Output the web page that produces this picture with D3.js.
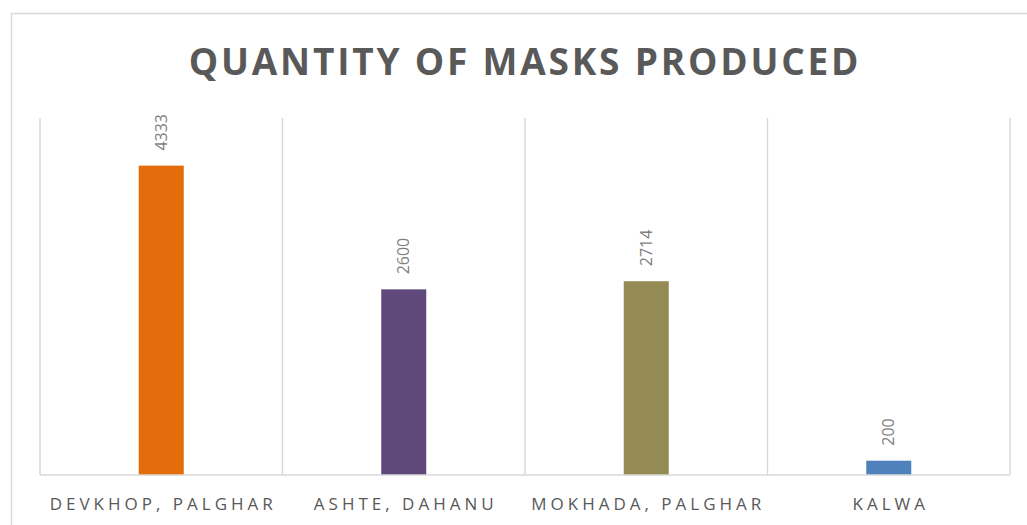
<!DOCTYPE html>
<meta charset="utf-8">
<script src="https://d3js.org/d3.v7.min.js"></script>
<style>
  body { margin: 0; background: #fff; }
  text { font-family: "Open Sans", sans-serif; }
</style>
<body>
<div id="chart"></div>
<script>
  var places = ["DEVKHOP, PALGHAR", "ASHTE, DAHANU", "MOKHADA, PALGHAR", "KALWA"];
  var masks = [4333, 2600, 2714, 200];
  var barColors = ["#E46C0A", "#5F497A", "#948A54", "#4F81BD"];

  var W = 1027, H = 525;
  var margin = {top: 118, right: 17, bottom: 50, left: 40},
      width = W - margin.left - margin.right,
      height = H - margin.top - margin.bottom;

  var root = d3.select("#chart")
    .append("svg")
      .attr("width", W)
      .attr("height", H);

  // chart frame
  root.append("rect")
      .attr("x", 11.5).attr("y", 13.5)
      .attr("width", W + 10).attr("height", H + 10)
      .attr("fill", "none")
      .attr("stroke", "#d9d9d9")
      .attr("stroke-width", 1.5);

  root.append("text")
      .attr("x", 525)
      .attr("y", 75)
      .attr("text-anchor", "middle")
      .attr("font-size", "37px")
      .attr("font-weight", "bold")
      .attr("letter-spacing", "2.8px")
      .attr("fill", "#595959")
      .text("QUANTITY OF MASKS PRODUCED");

  var svg = root.append("g")
      .attr("transform", "translate(" + margin.left + "," + margin.top + ")");

  var x = d3.scaleBand()
    .domain(places)
    .range([0, width]);

  var y = d3.scaleLinear()
    .domain([0, 5000])
    .range([height, 0]);

  // vertical gridlines at category edges
  var edges = places.map(function(d) { return x(d); }).concat([width]);
  svg.append("g")
    .selectAll("line")
    .data(edges)
    .enter()
    .append("line")
      .attr("x1", function(d) { return d; })
      .attr("x2", function(d) { return d; })
      .attr("y1", 0)
      .attr("y2", height)
      .attr("stroke", "#d9d9d9")
      .attr("stroke-width", 1.5);

  var barW = 45;
  svg.append("g")
    .selectAll("rect")
    .data(masks)
    .enter()
    .append("rect")
      .attr("x", function(d, i) { return x(places[i]) + x.bandwidth() / 2 - barW / 2; })
      .attr("y", function(d) { return y(d); })
      .attr("width", barW)
      .attr("height", function(d) { return height - y(d); })
      .attr("fill", function(d, i) { return barColors[i]; });

  // baseline
  svg.append("line")
      .attr("x1", 0).attr("x2", width)
      .attr("y1", height).attr("y2", height)
      .attr("stroke", "#d9d9d9")
      .attr("stroke-width", 1.5);

  // data labels
  svg.append("g")
    .selectAll("text")
    .data(masks)
    .enter()
    .append("text")
      .attr("transform", function(d, i) {
        return "translate(" + (x(places[i]) + x.bandwidth() / 2) + "," + (y(d) - 15) + ") rotate(-90)";
      })
      .attr("dy", "0.35em")
      .attr("font-size", "16px")
      .attr("fill", "#7f7f7f")
      .text(function(d) { return d; });

  // category labels
  svg.append("g")
    .selectAll("text")
    .data(places)
    .enter()
    .append("text")
      .attr("x", function(d) { return x(d) + x.bandwidth() / 2 + 2; })
      .attr("y", height + 35)
      .attr("text-anchor", "middle")
      .attr("font-size", "17px")
      .attr("letter-spacing", "4px")
      .attr("fill", "#595959")
      .text(function(d) { return d; });
</script>
</body>
